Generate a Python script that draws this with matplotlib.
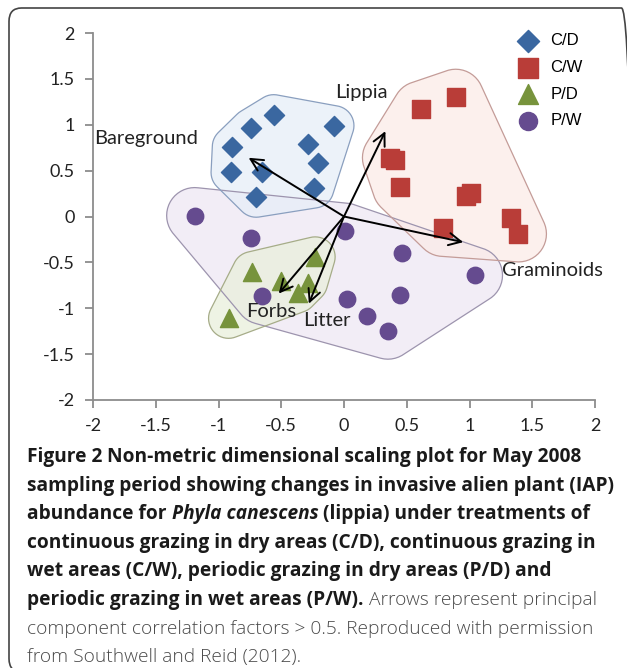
import numpy as np
import matplotlib
matplotlib.use("Agg")
import matplotlib.pyplot as plt
from matplotlib.patches import FancyBboxPatch, Polygon

W, H = 627, 668

### NMDS scores
cd_x = [-0.56, -0.74, -0.08, -0.89, -0.29, -0.90, -0.65, -0.21, -0.24, -0.70]
cd_y = [1.11, 0.96, 0.99, 0.76, 0.79, 0.48, 0.48, 0.58, 0.31, 0.21]

cw_x = [0.89, 0.61, 0.37, 0.41, 0.45, 0.97, 1.01, 0.79, 1.33, 1.39]
cw_y = [1.30, 1.17, 0.64, 0.62, 0.32, 0.22, 0.26, -0.13, -0.02, -0.19]

pd_x = [-0.23, -0.73, -0.50, -0.29, -0.37, -0.92]
pd_y = [-0.44, -0.60, -0.70, -0.72, -0.83, -1.11]

pw_x = [-1.19, -0.74, 0.01, 0.46, 1.04, -0.65, 0.02, 0.45, 0.18, 0.35]
pw_y = [0.01, -0.23, -0.16, -0.40, -0.64, -0.87, -0.90, -0.86, -1.08, -1.25]

### correlation vectors (start at origin)
vec_names = ["Bareground", "Lippia", "Graminoids", "Forbs", "Litter"]
vec_x = [-0.76, 0.33, 0.95, -0.52, -0.28]
vec_y = [0.64, 0.93, -0.28, -0.84, -0.95]

ticks = [-2, -1.5, -1, -0.5, 0, 0.5, 1, 1.5, 2]
tick_labels = ["-2", "-1.5", "-1", "-0.5", "0", "0.5", "1", "1.5", "2"]


def convex_hull(p):
    p = sorted(map(tuple, p))
    def cross(o, a, b):
        return (a[0]-o[0])*(b[1]-o[1]) - (a[1]-o[1])*(b[0]-o[0])
    lower, upper = [], []
    for q in p:
        while len(lower) >= 2 and cross(lower[-2], lower[-1], q) <= 0:
            lower.pop()
        lower.append(q)
    for q in reversed(p):
        while len(upper) >= 2 and cross(upper[-2], upper[-1], q) <= 0:
            upper.pop()
        upper.append(q)
    return np.array(lower[:-1] + upper[:-1])


def rounded_hull(xs, ys, r, sx, sy):
    # hull in pixel space so the rounding is circular on screen
    pts = np.column_stack([np.array(xs)*sx, np.array(ys)*sy])
    a = np.linspace(0, 2*np.pi, 48, endpoint=False)
    circ = np.column_stack([np.cos(a), np.sin(a)]) * r
    cloud = (pts[:, None, :] + circ[None, :, :]).reshape(-1, 2)
    hull = convex_hull(cloud)
    return hull / [sx, sy]


fig = plt.figure(figsize=(W/100, H/100), dpi=100)
ax = fig.add_axes([93/W, 1-400/H, 502/W, 367/H])
ax.set_xlim(-2, 2)
ax.set_ylim(-2, 2)

sx = ax.bbox.width / 4
sy = ax.bbox.height / 4

# group outlines
groups = [
    (pw_x, pw_y, "#EEE8F4", "#9D94AE", 28),
    (cd_x, cd_y, "#E6EEF8", "#8A9FBF", 20),
    (cw_x, cw_y, "#FBEBE8", "#C49C98", 28),
    (pd_x, pd_y, "#E9EFDC", "#A6AC88", 20),
]
for gx, gy, fc, ec, r in groups:
    hull = rounded_hull(gx, gy, r, sx, sy)
    ax.add_patch(Polygon(hull, closed=True, facecolor=fc, alpha=0.75,
                         edgecolor="none", zorder=1))
    ax.add_patch(Polygon(hull, closed=True, facecolor="none",
                         edgecolor=ec, lw=0.9, zorder=1.5))

ax.scatter(cd_x, cd_y, marker="D", s=105, color="#3A67A0", zorder=3, label="C/D")
ax.scatter(cw_x, cw_y, marker="s", s=170, color="#B93D38", zorder=3, label="C/W")
ax.scatter(pd_x, pd_y, marker="^", s=170, color="#77933C", zorder=3, label="P/D")
ax.scatter(pw_x, pw_y, marker="o", s=140, color="#654B8F", zorder=3, label="P/W")

for vx, vy in zip(vec_x, vec_y):
    ax.annotate("", xy=(vx, vy), xytext=(0, 0),
                arrowprops=dict(arrowstyle="->", color="black", lw=1.4,
                                mutation_scale=22, shrinkA=0, shrinkB=0),
                zorder=4)

lab_pos = {"Bareground": (-1.58, 0.85), "Lippia": (0.14, 1.35),
           "Graminoids": (1.66, -0.59), "Forbs": (-0.58, -1.03),
           "Litter": (-0.14, -1.13)}
for name in vec_names:
    lx, ly = lab_pos[name]
    ax.text(lx, ly, name, ha="center", va="center", fontsize=14.5,
            family="Lato", color="#222222", zorder=5)

for s in ["top", "right"]:
    ax.spines[s].set_visible(False)
for s in ["left", "bottom"]:
    ax.spines[s].set_color("#8C8C8C")
    ax.spines[s].set_linewidth(1.3)
ax.set_xticks(ticks)
ax.set_xticklabels(tick_labels)
ax.set_yticks(ticks)
ax.set_yticklabels(tick_labels)
ax.tick_params(direction="out", length=6, width=1.3, color="#8C8C8C",
               labelsize=13, labelcolor="#222222", pad=7)
for t in ax.get_xticklabels() + ax.get_yticklabels():
    t.set_family("Lato")

leg = ax.legend(loc="upper right", bbox_to_anchor=(1.005, 1.04), frameon=False,
                prop={"family": "Liberation Sans", "size": 12},
                handletextpad=0.3, labelspacing=0.7, scatterpoints=1,
                markerscale=1.1)

# border around the panel
fig.patches.append(FancyBboxPatch((9/W, -4/H), 625/W, (H-8+4)/H,
                                  boxstyle="round,pad=0,rounding_size=0.02",
                                  transform=fig.transFigure, facecolor="none",
                                  edgecolor="#444444", lw=1.2))

# caption with mixed styles, size fitted to the widest line
renderer = fig.canvas.get_renderer()
probe = fig.text(0, 0, "sampling period showing changes in invasive alien plant (IAP)",
                 family="Open Sans", weight="bold", size=10)
fsize = 10 * 585 / probe.get_window_extent(renderer).width
probe.remove()

B = dict(family="Open Sans", weight="bold", color="#1a1a1a", size=fsize)
BI = dict(B, style="italic")
L = dict(family="Open Sans", weight="light", color="#4a4a4a", size=fsize)
lines = [
    [("Figure 2", B), (" Non-metric dimensional scaling plot for May 2008", B)],
    [("sampling period showing changes in invasive alien plant (IAP)", B)],
    [("abundance for ", B), ("Phyla canescens", BI), (" (lippia) under treatments of", B)],
    [("continuous grazing in dry areas (C/D), continuous grazing in", B)],
    [("wet areas (C/W), periodic grazing in dry areas (P/D) and", B)],
    [("periodic grazing in wet areas (P/W).", B), (" Arrows represent principal", L)],
    [("component correlation factors > 0.5. Reproduced with permission", L)],
    [("from Southwell and Reid (2012).", L)],
]
y0 = 462
for i, runs in enumerate(lines):
    x = 27
    yb = y0 + i*28.6
    for s, kw in runs:
        t = fig.text(x/W, 1-yb/H, s, va="baseline", ha="left", **kw)
        x += t.get_window_extent(renderer).width

fig.savefig("out.png", dpi=100)
